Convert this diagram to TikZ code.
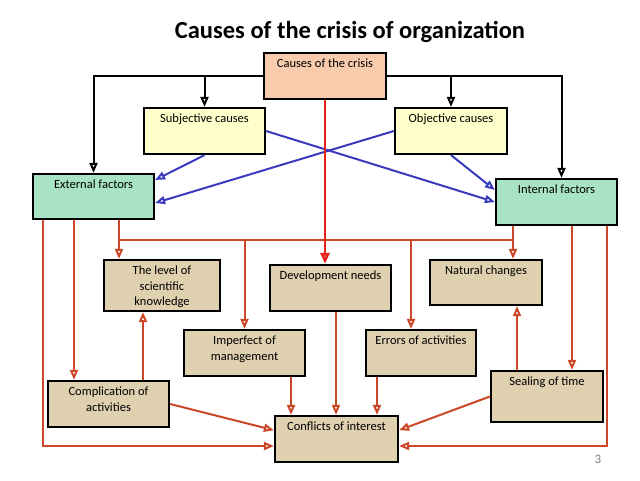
\documentclass[tikz,border=0pt]{standalone}
\usepackage{fontspec}
\setmainfont{Carlito}
\usepackage{tikz}
\usetikzlibrary{arrows.meta}

\definecolor{crisisfill}{HTML}{F8CBAD}
\definecolor{causefill}{HTML}{FFFFCC}
\definecolor{factorfill}{HTML}{A8E4C4}
\definecolor{effectfill}{HTML}{DFD0B0}
\definecolor{linered}{HTML}{CC4628}
\definecolor{mainred}{HTML}{E4221A}
\definecolor{lineblue}{HTML}{3A3ABE}

% box text: width, height, text (placed at the top)
\newcommand{\boxtxt}[3]{\parbox[c][#2][t]{#1}{\centering\vspace*{4pt}\strut#3}}

\tikzset{
    card/.style={rectangle, draw=black, line width=2.2pt, inner sep=0pt, font=\fontsize{12.5}{15.5}\selectfont},
    blackarrow/.style={draw=black, line width=2pt, -{Triangle[open, length=10pt, width=8pt]}},
    bluearrow/.style={draw=lineblue, line width=2pt, -{Triangle[open, length=10pt, width=8pt]}},
    redline/.style={draw=linered, line width=2pt},
    redarrow/.style={redline, -{Triangle[open, length=10pt, width=8pt]}},
    mainarrow/.style={draw=mainred, line width=2.6pt, -{Triangle[open, length=11pt, width=9pt]}}
}

\begin{document}
\begin{tikzpicture}[x=1pt, y=-1pt,
        crisis/.style={card, fill=crisisfill},
        cause/.style={card, fill=causefill},
        factor/.style={card, fill=factorfill},
        effect/.style={card, fill=effectfill}
    ]
    \useasboundingbox (0,0) rectangle (640,480);

    % Title
    \node[font=\fontsize{24.5}{28}\selectfont\bfseries] (title) at (350,32) {Causes of the crisis of organization};

    % Top levels
    \node[crisis] (crisis) at (325,76) {\boxtxt{122pt}{46pt}{Causes of the crisis}};
    \node[cause] (subj) at (204.5,131) {\boxtxt{121pt}{46pt}{Subjective causes}};
    \node[cause] (obj) at (451,131) {\boxtxt{112pt}{46pt}{Objective causes}};
    \node[factor] (ext) at (93.5,196.5) {\boxtxt{121pt}{45pt}{External factors}};
    \node[factor] (int) at (556.5,202) {\boxtxt{121pt}{46pt}{Internal factors}};

    % Effects
    \node[effect] (level) at (162,285.5) {\boxtxt{116pt}{51pt}{The level of\\scientific\\knowledge}};
    \node[effect] (devel) at (330.5,288) {\boxtxt{121pt}{46pt}{Development needs}};
    \node[effect] (natural) at (486,282.5) {\boxtxt{112pt}{45pt}{Natural changes}};
    \node[effect] (imperf) at (244.5,353) {\boxtxt{121pt}{46pt}{Imperfect of\\management}};
    \node[effect] (errors) at (421,353) {\boxtxt{110pt}{46pt}{Errors of activities}};
    \node[effect] (compl) at (108.5,404) {\boxtxt{121pt}{46pt}{Complication of\\activities}};
    \node[effect] (sealing) at (547,396.5) {\boxtxt{112pt}{51pt}{Sealing of time}};
    \node[effect] (conf) at (336.5,439) {\boxtxt{123pt}{46pt}{Conflicts of interest}};

    \node[font=\fontsize{13}{15}\selectfont, text=gray] (page) at (598,459) {3};

    % Connections from the crisis
    \draw[blackarrow] (crisis.west) -| (ext.north);
    \draw[blackarrow] (crisis.west -| subj.north) -- (subj.north);
    \draw[blackarrow] (crisis.east) -| ([xshift=5]int.north);
    \draw[blackarrow] (crisis.east -| obj.north) -- (obj.north);

    \draw[bluearrow] (subj.south) -- (ext.15);
    \draw[bluearrow] (obj.west) -- (ext.354);
    \draw[bluearrow] (subj.east) -- (int.west);
    \draw[bluearrow] (obj.south) -- (int.169);

    % Red bus between the factors
    \coordinate (busL) at (119,240);
    \coordinate (busR) at (513,240);
    \coordinate (dropE) at (411,240);
    \draw[redline] (ext.south -| busL) -- (busL) -- (busR) -- (int.south -| busR);
    \draw[redarrow] (busL) -- (level.north -| busL);
    \draw[redarrow] (imperf.north |- busL) -- (imperf.north);
    \draw[redarrow] (dropE) -- (errors.north -| dropE);
    \draw[redarrow] (busR) -- (natural.north -| busR);
    \draw[mainarrow] (crisis.south) -- (crisis.south |- devel.north);

    % Side connections
    \draw[redarrow] (ext.south -| 43,0) |- ([yshift=-7]conf.west);
    \draw[redarrow] (ext.south -| 74,0) -- (compl.north -| 74,0);
    \draw[redarrow] (int.south -| 572,0) -- (sealing.north -| 572,0);
    \draw[redarrow] (int.south -| 607,0) |- ([yshift=-7]conf.east);
    \draw[redarrow] (compl.north -| 143,0) -- (level.south -| 143,0);
    \draw[redarrow] (sealing.north -| 517,0) -- (natural.south -| 517,0);

    % Into the conflicts
    \draw[redarrow] (imperf.south -| 291,0) -- (conf.north -| 291,0);
    \draw[redarrow] (devel.south -| 336,0) -- (conf.north -| 336,0);
    \draw[redarrow] (errors.south -| 377,0) -- (conf.north -| 377,0);
    \draw[redarrow] (compl.east) -- (conf.172);
    \draw[redarrow] (sealing.west) -- (conf.8);
\end{tikzpicture}
\end{document}
